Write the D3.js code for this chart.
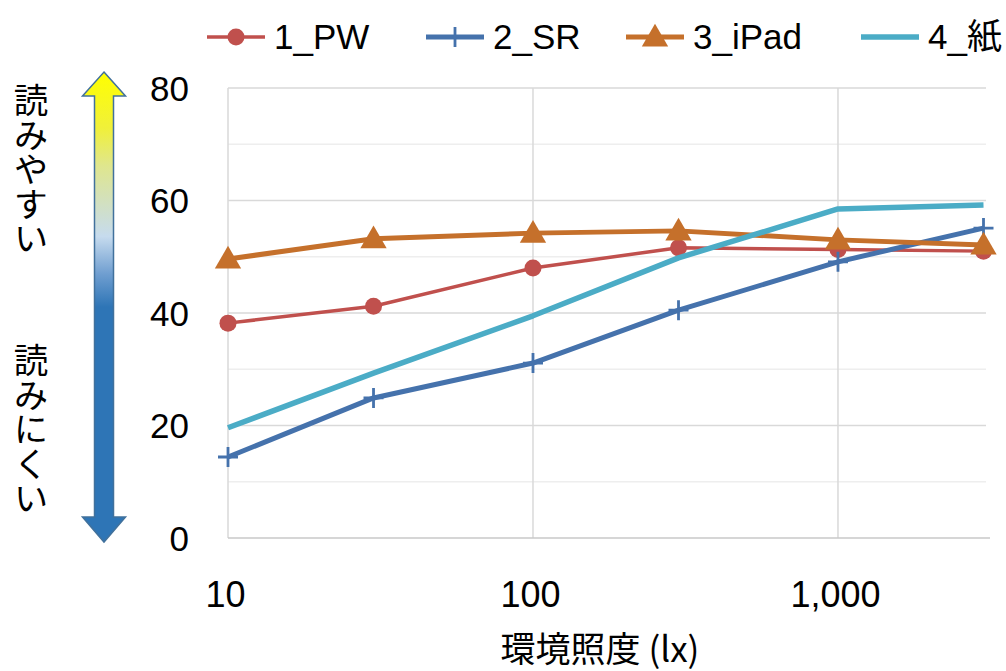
<!DOCTYPE html>
<html><head><meta charset="utf-8">
<script src="https://cdn.jsdelivr.net/npm/d3@7"></script>
<style>body{margin:0;background:#fff;} svg{display:block;}</style>
</head><body>
<svg id="c" width="1006" height="671"></svg>
<script>
const illuminance = [10, 30, 100, 300, 1000, 3000];
const seriesNames = ["1_PW", "2_SR", "3_iPad", "4_紙"];
const pwValues   = [38.2, 41.2, 48.0, 51.6, 51.3, 51.0];
const srValues   = [14.4, 24.9, 31.1, 40.5, 49.1, 55.1];
const ipadValues = [49.6, 53.2, 54.2, 54.6, 53.0, 52.1];
const paperValues= [19.6, 29.3, 39.5, 49.8, 58.5, 59.2];
const yTicks = [0, 20, 40, 60, 80];
const yMinor = [10, 30, 50, 70];
const xTicks = [10, 100, 1000];
const xTickLabels = ["10", "100", "1,000"];
const easyLabel = "読みやすい";
const hardLabel = "読みにくい";
const xTitle = "環境照度 (lx)";

const svg = d3.select("#c");
const x = d3.scaleLog().domain([10, 3000]).range([228, 983.5]);
const y = d3.scaleLinear().domain([0, 80]).range([538, 88]);
const font = "'Liberation Sans', Arial, sans-serif";
const jfont = "'Noto Sans CJK JP', sans-serif";

// gridlines
svg.append("g").selectAll("line").data(yMinor).join("line")
  .attr("x1", x(10)).attr("x2", 986).attr("y1", d=>y(d)).attr("y2", d=>y(d))
  .attr("stroke", "#eeeeee").attr("stroke-width", 1.5);
svg.append("g").selectAll("line").data(yTicks.filter(d=>d>0)).join("line")
  .attr("x1", x(10)).attr("x2", 986).attr("y1", d=>y(d)).attr("y2", d=>y(d))
  .attr("stroke", "#d9d9d9").attr("stroke-width", 1.5);
svg.append("g").selectAll("line").data(xTicks).join("line")
  .attr("x1", d=>x(d)).attr("x2", d=>x(d)).attr("y1", y(80)).attr("y2", y(0))
  .attr("stroke", "#d9d9d9").attr("stroke-width", 1.5);
svg.append("line").attr("x1", x(10)).attr("x2", 990).attr("y1", y(0)).attr("y2", y(0))
  .attr("stroke", "#c8c8c8").attr("stroke-width", 1.5);

// axis labels via d3 axes
const yAxis = svg.append("g").attr("transform", "translate(189,0)")
  .call(d3.axisLeft(y).tickValues(yTicks).tickSize(0).tickPadding(0));
yAxis.select(".domain").remove();
yAxis.selectAll("text").attr("font-family", font).attr("font-size", 35).attr("fill", "#000").attr("dy", "0.35em");

const xAxis = svg.append("g").attr("transform", "translate(-3,607)")
  .call(d3.axisBottom(x).tickValues(xTicks).tickFormat((d,i)=>xTickLabels[i]).tickSize(0).tickPadding(0));
xAxis.select(".domain").remove();
xAxis.selectAll("text").attr("font-family", font).attr("font-size", 36).attr("fill", "#000").attr("y", 0).attr("dy", 0);

svg.append("text").attr("x", 600).attr("y", 662).attr("text-anchor", "middle")
  .attr("font-family", jfont).attr("font-size", 35).attr("fill", "#000").text(xTitle);

// arrow
const defs = svg.append("defs");
const grad = defs.append("linearGradient").attr("id", "ag").attr("x1",0).attr("x2",0).attr("y1",0).attr("y2",1);
[[0,"#ffff00"],[0.12,"#f0f03a"],[0.2,"#dfe68e"],[0.35,"#c6dbee"],[0.43,"#6f9ed0"],[0.5,"#2e75b6"],[1,"#2e75b6"]]
  .forEach(s=>grad.append("stop").attr("offset", s[0]).attr("stop-color", s[1]));
const ax = 104, aTop = 72, aBot = 542, hb1 = 96, hb2 = 517, hw = 21.5, sw = 9.5;
const arrowPath = `M${ax},${aTop} L${ax+hw},${hb1} L${ax+sw},${hb1} L${ax+sw},${hb2} L${ax+hw},${hb2} L${ax},${aBot} L${ax-hw},${hb2} L${ax-sw},${hb2} L${ax-sw},${hb1} L${ax-hw},${hb1} Z`;
svg.append("path").attr("d", arrowPath).attr("fill", "url(#ag)").attr("stroke", "#41719c").attr("stroke-width", 1.5);

// vertical labels
[[easyLabel, 83],[hardLabel, 343]].forEach(([t, yy])=>{
  svg.append("text").attr("x", 31).attr("y", yy)
    .style("writing-mode", "vertical-rl").attr("font-family", jfont).attr("font-size", 34.5)
    .attr("fill", "#000").text(t);
});

// series
const colors = ["#c0504d", "#4572ac", "#c5702b", "#4bacc6"];
const widths = [3.5, 5, 5, 5.5];
const allValues = [pwValues, srValues, ipadValues, paperValues];
const line = d3.line().x((d,i)=>x(illuminance[i])).y(d=>y(d));

function marker(g, type, cx, cy, color){
  if(type===0){
    g.append("circle").attr("cx", cx).attr("cy", cy).attr("r", 8.5).attr("fill", color);
  } else if(type===1){
    g.append("path").attr("d", `M${cx-10},${cy} H${cx+10} M${cx},${cy-10} V${cy+10}`)
      .attr("stroke", color).attr("stroke-width", 2.8).attr("fill", "none");
  } else if(type===2){
    g.append("path").attr("d", d3.symbol(d3.symbolTriangle, 300)()).attr("transform", `translate(${cx},${cy+2})`)
      .attr("fill", color);
  }
}

allValues.forEach((vals, s)=>{
  const g = svg.append("g");
  g.append("path").datum(vals).attr("d", line).attr("fill","none")
    .attr("stroke", colors[s]).attr("stroke-width", widths[s]).attr("stroke-linejoin","round");
  if(s<3) vals.forEach((v,i)=>marker(g, s, x(illuminance[i]), y(v), colors[s]));
});

// legend
const legendX = [207, 426, 626, 861];
seriesNames.forEach((n, s)=>{
  const g = svg.append("g");
  const lx = legendX[s];
  g.append("line").attr("x1", lx).attr("x2", lx+58).attr("y1", 37).attr("y2", 37)
    .attr("stroke", colors[s]).attr("stroke-width", widths[s]);
  if(s<3) marker(g, s, lx+29, 37, colors[s]);
  g.append("text").attr("x", lx+67).attr("y", 49)
    .attr("font-family", s===3 ? font + ", 'Noto Sans CJK JP'" : font).attr("font-size", 35).attr("fill", "#000").text(n);
});
</script>
</body></html>
